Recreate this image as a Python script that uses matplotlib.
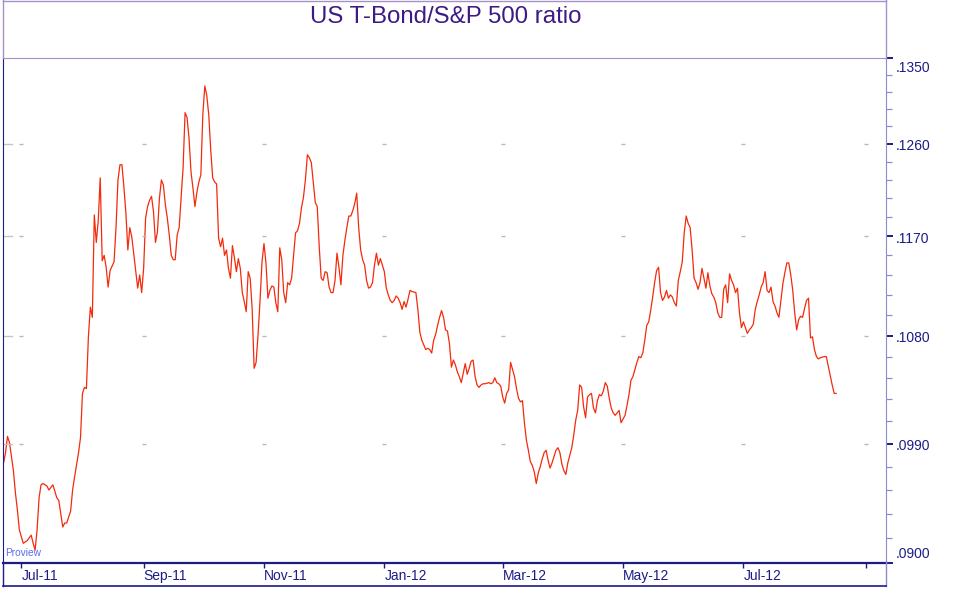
import matplotlib
matplotlib.use("Agg")
import matplotlib.pyplot as plt
import matplotlib.transforms as mtransforms
from matplotlib.lines import Line2D
from matplotlib.ticker import FixedLocator, NullFormatter
import numpy as np
import pandas as pd

plt.rcParams["font.family"] = ["Liberation Sans", "DejaVu Sans"]

months = ["2011-06", "2011-07", "2011-08", "2011-09", "2011-10", "2011-11", "2011-12",
          "2012-01", "2012-02", "2012-03", "2012-04", "2012-05", "2012-06", "2012-07", "2012-08"]

obs_days = [
    [22, 23, 24, 25, 27, 28, 29, 30],
    [2, 4, 6, 7, 8, 9, 10, 11, 12, 14, 15, 17, 19, 20, 21, 22, 23, 24, 26, 27, 28, 30, 31],
    [1, 2, 3, 4, 5, 6, 7, 8, 9, 10, 11, 12, 13, 14, 15, 17, 18, 19, 20, 21, 22, 23, 24, 25, 26, 28, 29, 30, 31],
    [1, 2, 3, 4, 5, 6, 7, 8, 9, 10, 11, 12, 13, 14, 15, 16, 17, 18, 19, 20, 21, 22, 23, 24, 25, 26, 27, 28, 29, 30],
    [1, 2, 3, 4, 5, 6, 7, 8, 9, 10, 11, 12, 13, 14, 15, 16, 17, 18, 19, 20, 21, 22, 23, 24, 25, 26, 27, 28, 29, 30, 31],
    [1, 2, 3, 4, 5, 6, 7, 8, 9, 10, 11, 12, 13, 14, 15, 16, 17, 18, 19, 20, 21, 22, 23, 24, 25, 26, 27, 28, 29, 30],
    [1, 2, 3, 4, 5, 6, 7, 8, 9, 10, 11, 12, 13, 14, 15, 16, 17, 18, 19, 20, 21, 22, 23, 24, 25, 26, 27, 28, 29, 30, 31],
    [1, 2, 3, 4, 5, 6, 7, 8, 9, 10, 11, 12, 13, 14, 15, 17, 18, 19, 20, 21, 22, 23, 24, 25, 26, 27, 28, 29, 30, 31],
    [1, 2, 3, 4, 5, 6, 7, 8, 9, 10, 11, 12, 13, 14, 15, 16, 17, 18, 19, 20, 21, 23, 24, 25, 26, 27, 28, 29],
    [1, 2, 3, 4, 5, 6, 7, 8, 9, 10, 11, 12, 13, 14, 15, 16, 17, 18, 19, 20, 21, 22, 23, 24, 25, 26, 27, 28, 29, 30, 31],
    [1, 2, 3, 4, 5, 6, 7, 8, 9, 10, 11, 12, 13, 14, 15, 16, 17, 18, 19, 20, 21, 22, 23, 24, 25, 26, 27, 28, 29, 30],
    [1, 2, 3, 4, 5, 6, 7, 8, 9, 10, 11, 12, 13, 14, 15, 16, 17, 18, 19, 20, 21, 22, 23, 24, 25, 26, 27, 28, 29, 30, 31],
    [1, 2, 3, 4, 5, 6, 7, 8, 9, 10, 11, 12, 13, 14, 15, 16, 17, 18, 19, 20, 21, 22, 23, 24, 25, 26, 27, 28, 29, 30],
    [1, 2, 3, 4, 5, 6, 7, 8, 9, 10, 11, 12, 13, 14, 15, 16, 17, 18, 19, 20, 21, 22, 23, 24, 25, 26, 27, 28, 29, 30, 31],
    [1, 2, 3, 4, 5, 6, 7, 8, 9, 11, 12, 13, 14, 15, 16, 17],
]

ratio = [
    [.0975, .0983, .0996, .0991, .0969, .0952, .0939, .0924],
    [.0914, .0916, .0920, .0914, .0909, .0924, .0948, .0958, .0959, .0957, .0954, .0958, .0948, .0946,
     .0936, .0926, .0929, .0929, .0938, .0954, .0964, .0983, .0995],
    [.1031, .1036, .1035, .1079, .1105, .1096, .1190, .1164, .1185, .1226, .1147, .1152, .1141, .1123,
     .1138, .1146, .1178, .1224, .1239, .1239, .1217, .1192, .1157, .1178, .1169, .1138, .1122, .1134, .1118],
    [.1140, .1187, .1198, .1204, .1208, .1193, .1164, .1174, .1206, .1224, .1219, .1200, .1187, .1171, .1152,
     .1148, .1148, .1171, .1178, .1206, .1236, .1292, .1287, .1266, .1232, .1216, .1198, .1212, .1222, .1229],
    [.1290, .1320, .1310, .1290, .1254, .1226, .1222, .1220, .1168, .1160, .1168, .1152, .1157, .1140, .1131,
     .1161, .1150, .1137, .1149, .1140, .1118, .1110, .1101, .1137, .1131, .1104, .1052, .1057, .1081, .1111, .1146],
    [.1163, .1145, .1113, .1120, .1124, .1123, .1109, .1101, .1159, .1148, .1118, .1109, .1127, .1125, .1131,
     .1152, .1173, .1175, .1182, .1197, .1207, .1224, .1249, .1246, .1241, .1221, .1202, .1198, .1160, .1131],
    [.1129, .1137, .1136, .1123, .1118, .1118, .1129, .1154, .1141, .1125, .1152, .1166, .1178, .1189, .1189,
     .1194, .1201, .1211, .1178, .1157, .1148, .1143, .1129, .1122, .1123, .1127, .1143, .1154, .1143, .1149, .1143],
    [.1137, .1122, .1116, .1111, .1109, .1111, .1115, .1113, .1109, .1103, .1110, .1105, .1112, .1120, .1119,
     .1118, .1103, .1083, .1076, .1072, .1068, .1069, .1068, .1065, .1076, .1081, .1089, .1096, .1102, .1096],
    [.1085, .1084, .1073, .1053, .1059, .1055, .1049, .1045, .1040, .1048, .1056, .1047, .1052, .1058, .1059,
     .1045, .1038, .1036, .1038, .1039, .1039, .1040, .1039, .1040, .1044, .1040, .1039, .1037],
    [.1028, .1023, .1031, .1034, .1057, .1051, .1045, .1035, .1027, .1024, .1025, .1007, .0993, .0985, .0976,
     .0973, .0968, .0959, .0967, .0972, .0978, .0983, .0985, .0977, .0971, .0975, .0980, .0985, .0987, .0983, .0974],
    [.0969, .0966, .0975, .0981, .0987, .0997, .1009, .1017, .1038, .1036, .1020, .1011, .1028, .1030, .1031,
     .1019, .1015, .1025, .1030, .1029, .1033, .1040, .1037, .1027, .1019, .1015, .1013, .1015, .1017, .1007],
    [.1010, .1013, .1021, .1030, .1042, .1045, .1051, .1057, .1062, .1061, .1065, .1076, .1089, .1092, .1102,
     .1114, .1127, .1138, .1141, .1118, .1111, .1114, .1120, .1113, .1116, .1114, .1109, .1106, .1129, .1137, .1146],
    [.1173, .1189, .1182, .1178, .1157, .1131, .1127, .1121, .1127, .1140, .1131, .1122, .1136, .1124, .1117,
     .1114, .1109, .1100, .1096, .1096, .1121, .1125, .1109, .1135, .1129, .1125, .1118, .1122, .1100, .1087],
    [.1092, .1087, .1082, .1085, .1087, .1090, .1103, .1110, .1116, .1123, .1127, .1137, .1120, .1118, .1123,
     .1110, .1106, .1100, .1096, .1111, .1126, .1136, .1145, .1145, .1134, .1120, .1100, .1085, .1094, .1097, .1096],
    [.1104, .1111, .1113, .1078, .1079, .1068, .1062, .1060, .1061, .1062, .1062, .1054, .1046, .1038, .1031, .1031],
]

tick_dates = ["2011-07-01", "2011-09-01", "2011-11-01", "2012-01-01",
              "2012-03-01", "2012-05-01", "2012-07-01", "2012-09-01"]
tick_labels = ["Jul-11", "Sep-11", "Nov-11", "Jan-12", "Mar-12", "May-12", "Jul-12", ""]

y_major = [0.0900, 0.0990, 0.1080, 0.1170, 0.1260, 0.1350]
y_major_labels = [".0900", ".0990", ".1080", ".1170", ".1260", ".1350"]

NAVY = "#1c1c86"
PURPLE = "#a590cc"
PERI = "#8c8cd0"

dates = []
values = []
for m, dd, vv in zip(months, obs_days, ratio):
    dates += [pd.Timestamp(f"{m}-{d:02d}") for d in dd]
    values += vv

W, H = 956, 590


def fx(px):
    return px / W


def fy(py):
    return 1 - py / H


fig = plt.figure(figsize=(W / 100, H / 100), dpi=100, facecolor="white")
ax = fig.add_axes([fx(3), fy(562.5), fx(886) - fx(3), fy(58) - fy(562.5)])

ax.plot(dates, values, color="#f42a0c", lw=0.9)

ax.set_yscale("log")
ax.set_ylim(0.09, 0.135)
t0 = pd.Timestamp("2011-07-01")
ax.set_xlim(t0 - pd.Timedelta(days=9.28), t0 + pd.Timedelta(days=438.27))

# y axis on the right, labels drawn by hand so they can be nudged like the original
minor = [v for v in np.round(np.arange(0.09, 0.1351, 0.0018), 4) if v not in y_major]
ax.yaxis.tick_right()
ax.yaxis.set_major_locator(FixedLocator(y_major))
ax.yaxis.set_minor_locator(FixedLocator(minor))
ax.yaxis.set_major_formatter(NullFormatter())
ax.yaxis.set_minor_formatter(NullFormatter())
ax.tick_params(axis="y", which="major", direction="out", length=5.3, width=1.4, color=NAVY)
ax.tick_params(axis="y", which="minor", direction="out", length=4.5, width=0.9, color=PERI)

ytrans = ax.get_yaxis_transform()
for v, s in zip(y_major, y_major_labels):
    dy = -2.5
    if v == y_major[-1]:
        dy = -10
    elif v == y_major[0]:
        dy = 8.5
    off = mtransforms.ScaledTranslation(10 / 100, dy / 100, fig.dpi_scale_trans)
    ax.text(1, v, s, transform=ytrans + off, ha="left", va="center",
            fontsize=10, color=NAVY)

ax.set_xticks(pd.to_datetime(tick_dates), tick_labels, ha="left")
ax.tick_params(axis="x", direction="out", length=3.5, width=1, color=NAVY,
               pad=1, labelsize=10, labelcolor=NAVY)

# faint grid marks at month / major level crossings
for v in y_major[1:-1]:
    ax.plot(pd.to_datetime(tick_dates), [v] * len(tick_dates), ls="none",
            marker="_", ms=3, mew=1, color="#b8b8b8")
    ax.axhline(v, 0, 9 / 883, color="#c4c4c4", lw=1)

ax.spines["left"].set_color(NAVY)
ax.spines["bottom"].set_color(NAVY)
ax.spines["bottom"].set_linewidth(1.6)
ax.spines["right"].set_color(PERI)
ax.spines["top"].set_color(PURPLE)

# outer frame: title box above, date strip below
frame = [
    ([3, 886], [0.5, 0.5], PURPLE, 1.0),
    ([3, 3], [0, 58], PURPLE, 1.0),
    ([886, 886], [0, 58], PURPLE, 1.0),
    ([3, 3], [562, 586], NAVY, 1.0),
    ([886, 886], [562, 586], PERI, 1.0),
    ([3, 886], [586, 586], NAVY, 1.2),
]
for xs, ys, c, lw in frame:
    fig.add_artist(Line2D([fx(x) for x in xs], [fy(y) for y in ys], color=c, lw=lw))

fig.text(fx(446), fy(17), "US T-Bond/S&P 500 ratio", ha="center", va="center",
         fontsize=17.3, color="#3d1a84")
fig.text(fx(5), fy(553), "Proview", ha="left", va="center", fontsize=7.3, color="#5a6cf0")

fig.savefig("out.png", dpi=100, facecolor="white")
